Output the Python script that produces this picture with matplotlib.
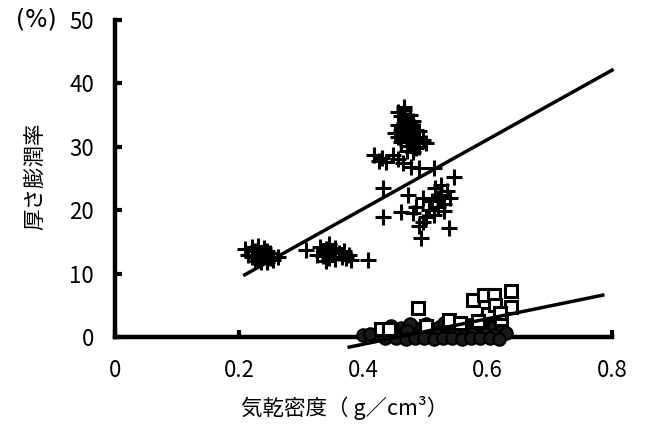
import matplotlib
matplotlib.use("Agg")
import matplotlib.pyplot as plt

plt.rcParams['font.family'] = ['Noto Sans CJK JP', 'DejaVu Sans']

# ---- data: "+" series (x = density, y = thickness swelling %) ----
plus_x = [0.21, 0.215, 0.22, 0.22, 0.225, 0.23, 0.23, 0.235, 0.24, 0.24, 0.245, 0.245,
          0.25, 0.25, 0.255, 0.262, 0.235, 0.225,
          0.308, 0.325, 0.33, 0.335, 0.34, 0.345, 0.345, 0.35, 0.355, 0.355, 0.36, 0.365,
          0.368, 0.372, 0.376, 0.38, 0.408, 0.34,
          0.455, 0.46, 0.465, 0.47, 0.475, 0.455, 0.46, 0.465, 0.47, 0.475, 0.48, 0.485,
          0.455, 0.46, 0.465, 0.47, 0.475, 0.48, 0.485, 0.49, 0.495, 0.47, 0.48, 0.49,
          0.50, 0.465, 0.45, 0.485,
          0.417, 0.448, 0.437, 0.43, 0.464, 0.477, 0.49, 0.514, 0.455, 0.425,
          0.546, 0.432, 0.472, 0.496, 0.525, 0.461, 0.432, 0.496, 0.538, 0.493, 0.514,
          0.515, 0.52, 0.525, 0.53, 0.535, 0.54, 0.52, 0.53, 0.51, 0.505, 0.50, 0.485,
          0.48, 0.49]
plus_y = [13.8, 13.0, 14.2, 12.6, 13.5, 14.3, 12.3, 13.2, 14.0, 12.8, 13.6, 11.9,
          12.5, 13.3, 12.2, 12.6, 11.8, 12.0,
          13.7, 13.0, 14.2, 12.8, 13.8, 14.6, 12.5, 13.4, 14.0, 12.3, 13.2, 12.6,
          13.5, 12.4, 12.9, 12.2, 12.1, 12.0,
          35.5, 34.8, 35.8, 34.2, 35.0, 33.5, 32.6, 33.8, 32.0, 33.2, 34.0, 32.6,
          31.5, 30.8, 31.8, 30.2, 31.2, 30.6, 31.5, 30.0, 31.0, 29.4, 29.2, 32.5,
          30.6, 36.2, 32.2, 29.8,
          28.7, 28.7, 27.6, 28.2, 27.4, 26.8, 26.7, 26.7, 28.0, 27.8,
          25.2, 23.5, 22.4, 21.9, 22.4, 19.7, 18.9, 18.1, 17.2, 15.6, 19.2,
          23.5, 22.0, 24.0, 21.0, 23.0, 22.0, 20.5, 19.8, 21.5, 20.0, 19.0, 20.5,
          19.5, 17.5]

# ---- data: open-square series (upper, distinct points) ----
sq_x = [0.429, 0.441, 0.488, 0.538, 0.576, 0.594, 0.61, 0.637, 0.637, 0.621, 0.60,
        0.612, 0.62, 0.585, 0.50, 0.555]
sq_y = [1.3, 1.3, 4.6, 2.7, 5.8, 6.6, 6.6, 7.2, 4.8, 2.8, 3.6,
        5.0, 3.8, 2.5, 1.8, 2.2]

# ---- data: dense low cluster (overlapping markers) ----
low_x = [0.42, 0.43, 0.44, 0.45, 0.455, 0.46, 0.465, 0.47, 0.475, 0.48, 0.485, 0.49,
         0.495, 0.50, 0.505, 0.51, 0.515, 0.52, 0.525, 0.53, 0.535, 0.54, 0.545, 0.55,
         0.555, 0.56, 0.565, 0.57, 0.575, 0.58, 0.585, 0.59, 0.595, 0.60, 0.605, 0.61,
         0.62, 0.63, 0.445, 0.46, 0.475, 0.49, 0.505, 0.52, 0.535, 0.55, 0.565, 0.58,
         0.595, 0.61, 0.47, 0.50, 0.53, 0.56, 0.59, 0.40, 0.41, 0.515, 0.545, 0.575,
         0.435, 0.453, 0.468, 0.483, 0.498, 0.513, 0.528, 0.543, 0.558, 0.573, 0.588,
         0.603, 0.618]
low_y = [0.4, 0.8, 0.3, 1.0, 0.5, 1.4, 0.6, 1.1, 0.3, 1.6, 0.7, 1.2,
         0.4, 0.9, 1.5, 0.5, 1.1, 0.3, 1.8, 0.8, 1.3, 0.4, 1.0, 1.6,
         0.6, 1.2, 0.3, 1.9, 0.9, 1.4, 0.5, 1.7, 1.0, 2.1, 0.6, 1.5,
         0.8, 0.6, 1.8, 0.2, 2.0, 0.2, 0.3, 1.4, 0.2, 0.3, 0.9, 0.3,
         0.4, 0.3, 0.9, 2.0, 2.2, 0.5, 2.6, 0.3, 0.5, 0.6, 0.5, 0.4,
         -0.2, -0.1, -0.3, -0.2, -0.1, -0.3, -0.2, -0.1, -0.3, -0.2, -0.1,
         -0.2, -0.3]

# ---- regression lines (endpoints) ----
fit1_x = [0.209, 0.8]
fit1_y = [9.8, 42.1]
fit2_x = [0.377, 0.785]
fit2_y = [-1.6, 6.6]

xticks = [0, 0.2, 0.4, 0.6, 0.8]
xtick_labels = ['0', '0.2', '0.4', '0.6', '0.8']
yticks = [0, 10, 20, 30, 40, 50]

fig = plt.figure(figsize=(6.45, 4.26), dpi=100)
ax = fig.add_axes([0.178, 0.209, 0.771, 0.744])

ax.plot(low_x, low_y, linestyle='none', marker='o', markersize=9,
        markerfacecolor='#1a1a1a', markeredgewidth=1.5, markeredgecolor='black',
        clip_on=False, zorder=3)
ax.plot(sq_x, sq_y, linestyle='none', marker='s', markersize=9,
        markerfacecolor='white', markeredgewidth=2.2, markeredgecolor='black',
        clip_on=False, zorder=3)
ax.plot(plus_x, plus_y, linestyle='none', marker='+', markersize=12,
        markeredgewidth=2.2, color='black', clip_on=False, zorder=3)
ax.plot(fit1_x, fit1_y, color='black', linewidth=2.5, clip_on=False, zorder=4)
ax.plot(fit2_x, fit2_y, color='black', linewidth=2.5, clip_on=False, zorder=4)

ax.set_xlim(0, 0.8)
ax.set_ylim(0, 50)
ax.set_xticks(xticks)
ax.set_xticklabels(xtick_labels)
ax.set_yticks(yticks)

for s in ['top', 'right']:
    ax.spines[s].set_visible(False)
for s in ['left', 'bottom']:
    ax.spines[s].set_linewidth(3.2)
ax.tick_params(axis='both', direction='in', length=5, width=3, labelsize=16)
ax.tick_params(axis='x', pad=16)
ax.tick_params(axis='y', pad=15)

fig.text(0.535, 0.042, '気乾密度（ g／cm³）', fontsize=15.5, ha='center', va='center')
fig.text(0.055, 0.587, '厚さ膨潤率', rotation=90, fontsize=15.5,
         ha='center', va='center')
fig.text(0.057, 0.955, '(%)', fontsize=17, ha='center', va='center',
         family='DejaVu Sans')

fig.savefig('out.png', dpi=100)
